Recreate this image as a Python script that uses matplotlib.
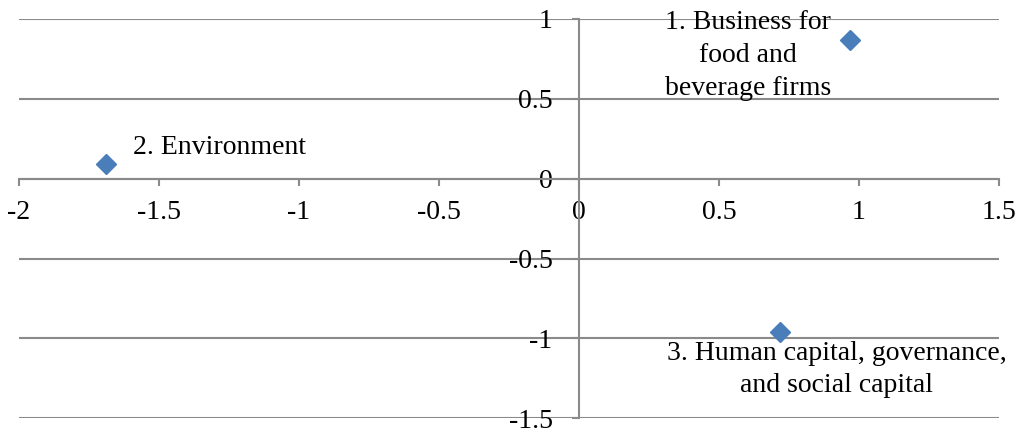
import matplotlib
matplotlib.use("Agg")
import matplotlib.pyplot as plt

# factor scores
xs = [0.968, -1.689, 0.718]
ys = [0.871, 0.094, -0.960]
labels = ["1. Business for\nfood and\nbeverage firms",
          "2. Environment",
          "3. Human capital, governance,\nand social capital"]
x_ticks = [-2, -1.5, -1, -0.5, 0, 0.5, 1, 1.5]
y_ticks = [-1.5, -1, -0.5, 0, 0.5, 1]

plt.rcParams['font.family'] = ['Liberation Serif', 'DejaVu Serif']
fs = 20
fig = plt.figure(figsize=(10.19, 4.30), dpi=100)
ax = fig.add_axes([19 / 1019, 11.7 / 430, 980 / 1019, 399.3 / 430])

grid_col = '#8a8a8a'
ax.set_xlim(-2, 1.5)
ax.set_ylim(-1.5, 1)
ax.set_xticks(x_ticks)
ax.set_yticks(y_ticks)
ax.set_xticklabels([f"{t:g}" for t in x_ticks])
ax.set_yticklabels([f"{t:g}" for t in y_ticks])
ax.yaxis.grid(True, color=grid_col, linewidth=1.5)
ax.set_axisbelow(True)

for s in ['top', 'right']:
    ax.spines[s].set_visible(False)
ax.spines['left'].set_position(('data', 0))
ax.spines['bottom'].set_position(('data', 0))
for s in ['left', 'bottom']:
    ax.spines[s].set_color(grid_col)
    ax.spines[s].set_linewidth(1.5)
ax.tick_params(axis='both', direction='out', length=5, width=1.5,
               color=grid_col, labelsize=fs, labelcolor='black')
ax.tick_params(axis='x', pad=10)
ax.tick_params(axis='y', pad=14)

ax.plot(xs, ys, linestyle='none', marker='D', markersize=10,
        color='#4a7ebb', clip_on=False, zorder=5)

ax.text(-1.593, 0.157, labels[1], fontsize=fs, ha='left', va='baseline')
ax.text(0.604, 0.526, labels[0], fontsize=fs, ha='center', va='baseline',
        linespacing=1.42, multialignment='center')
ax.text(0.921, -1.335, labels[2], fontsize=fs, ha='center', va='baseline',
        linespacing=1.37, multialignment='center')

fig.savefig('out.png', dpi=100)
